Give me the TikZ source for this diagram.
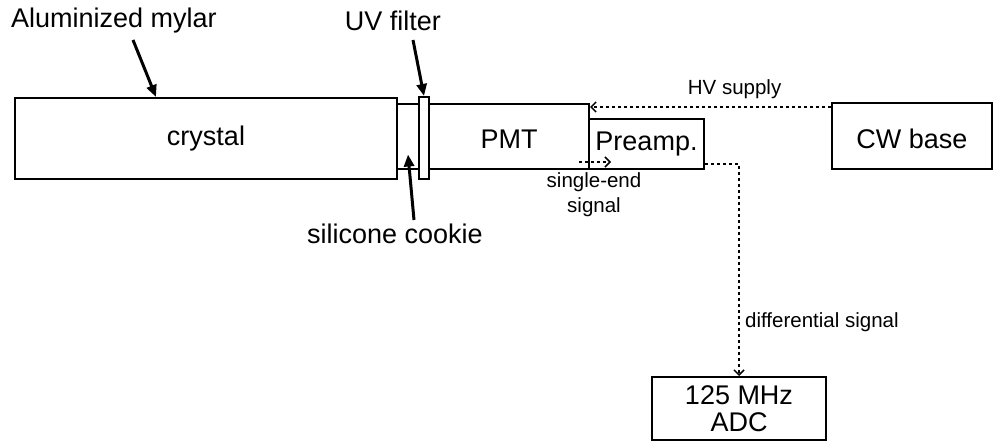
\documentclass[tikz,border=0pt]{standalone}
\usepackage{fontspec}
\setmainfont{Liberation Sans}
\usetikzlibrary{arrows.meta,positioning,calc}

\begin{document}
\begin{tikzpicture}[x=1pt,y=-1pt]
\tikzset{part/.style={draw,line width=2pt,inner sep=0pt,font=\fontsize{27}{27}\selectfont}}
\tikzset{lowtxt/.style={text height=25pt,text depth=0pt}}
\tikzset{bigtxt/.style={inner sep=0pt,font=\fontsize{27}{27}\selectfont}}
\tikzset{smalltxt/.style={inner sep=0pt,font=\fontsize{20.5}{25}\selectfont}}
\tikzset{ptr/.style={-{Triangle[length=12pt,width=10pt]},line width=3pt}}
\tikzset{sig/.style={-{Straight Barb[length=5pt,width=10pt]},line width=1.5pt,dash pattern=on 3pt off 3pt}}
\useasboundingbox (0,0) rectangle (993,443);
% detector chain
\node[part,minimum width=382,minimum height=81] (crystal) at (206,138.5) {crystal};
\node[part,minimum width=22,minimum height=65] (cookie) at (408,136.5) {};
\node[part,minimum width=10,minimum height=82] (filter) at (424,138) {};
\node[part,lowtxt,minimum width=160,minimum height=65] (pmt) at (509,136.5) {PMT};
\node[part,minimum width=115,minimum height=50] (preamp) at (646.5,144) {Preamp.};
\node[part,lowtxt,minimum width=160,minimum height=66] (cw) at (912,136) {CW base};
\node[part,minimum width=174,minimum height=63,align=center] (adc) at (739,408.5) {125 MHz\\ADC};
% labels
\node[bigtxt] (mylar) at (114,21) {Aluminized mylar};
\node[bigtxt] (uvlbl) at (393,21) {UV filter};
\node[bigtxt] (cookielbl) at (395,234) {silicone cookie};
\coordinate (mylartail) at (133,40);
\coordinate (uvtail) at (413,40);
\coordinate (cookietail) at (414,220);
\draw[ptr] (mylartail) -- ([xshift=142pt]crystal.north west);
\draw[ptr] (uvtail) -- (filter.north);
\draw[ptr] (cookietail) -- ([yshift=-18pt]cookie.center);
% signals
\draw[sig] ([yshift=-5pt]cw.north west) -- node[pos=0.4,above=7pt,smalltxt]{HV supply} ([yshift=-4pt]pmt.north east);
\draw[sig] ([xshift=-11pt,yshift=8pt]pmt.south east) -- ([xshift=21pt,yshift=8pt]pmt.south east);
\node[smalltxt,align=center] (selbl) at (594,195) {single-end\\signal};
\draw[sig] ([yshift=6pt]preamp.south east) -| (adc.north);
\node[smalltxt,anchor=west] (difflbl) at (745,322) {differential signal};
\end{tikzpicture}
\end{document}
